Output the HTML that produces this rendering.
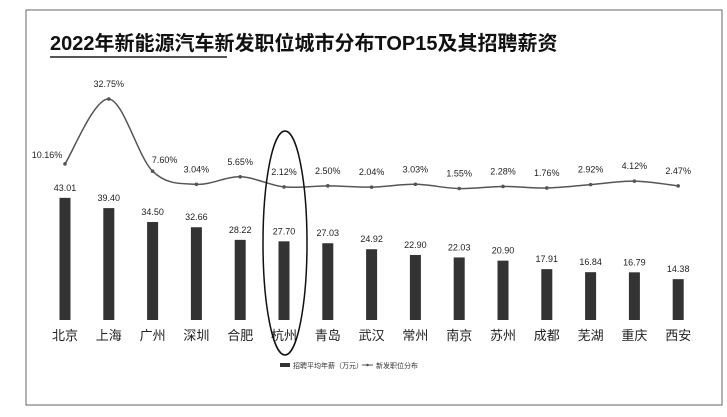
<!DOCTYPE html>
<html><head><meta charset="utf-8"><style>
body{margin:0;background:#fff;}
svg text{font-family:"Liberation Sans","Noto Sans CJK SC",sans-serif;}
</style></head><body>
<svg width="727" height="412" viewBox="0 0 727 412">
<rect x="26" y="10" width="696" height="395" fill="#fff" stroke="#666" stroke-width="1"/>
<text x="50" y="50" font-size="20" font-weight="bold" fill="#111">2022年新能源汽车新发职位城市分布TOP15及其招聘薪资</text>
<line x1="50" y1="57" x2="227" y2="57" stroke="#555" stroke-width="2"/>
<g id="bars"></g><g id="line"></g><g id="labels"></g>
<ellipse cx="285" cy="243" rx="22" ry="112" fill="none" stroke="#111" stroke-width="1.5"/>
<g>
<rect x="280" y="363" width="10" height="4" fill="#333"/>
<text x="293" y="368" font-size="7" fill="#333">招聘平均年薪（万元）</text>
<line x1="362" y1="365" x2="373" y2="365" stroke="#555" stroke-width="1"/>
<circle cx="367.5" cy="365" r="1.3" fill="#555"/>
<text x="376" y="368" font-size="7" fill="#333">新发职位分布</text>
</g>
</svg>
<script>
const cities=["北京","上海","广州","深圳","合肥","杭州","青岛","武汉","常州","南京","苏州","成都","芜湖","重庆","西安"];
const salary=[43.01,39.40,34.50,32.66,28.22,27.70,27.03,24.92,22.90,22.03,20.90,17.91,16.84,16.79,14.38];
const share=[10.16,32.75,7.60,3.04,5.65,2.12,2.50,2.04,3.03,1.55,2.28,1.76,2.92,4.12,2.47];
const NS="http://www.w3.org/2000/svg";
const x=i=>65+i*43.8;
const yBar=v=>320-v*2.84;
const yLine=v=>193-v*2.87;
function mk(t,a,p){const e=document.createElementNS(NS,t);for(const k in a)e.setAttribute(k,a[k]);p.appendChild(e);return e;}
const gb=document.getElementById('bars'),gl=document.getElementById('line'),gt=document.getElementById('labels');
salary.forEach((v,i)=>{
 const r=mk('rect',{x:x(i)-5.5,y:yBar(v),width:11,height:320-yBar(v),fill:'#333'},gb);
 
 
 const t=mk('text',{x:x(i),y:yBar(v)-7,'font-size':9,'text-anchor':'middle',fill:'#222'},gt);
 t.textContent=v.toFixed(2);
 
 
 const c=mk('text',{x:x(i),y:340,'font-size':13,'text-anchor':'middle',fill:'#222'},gt);
 c.textContent=cities[i];
 
 
});
const pts=share.map((v,i)=>[x(i),yLine(v)]);
let d='M'+pts[0][0]+','+pts[0][1];
for(let i=0;i<pts.length-1;i++){
 const p0=pts[Math.max(0,i-1)],p1=pts[i],p2=pts[i+1],p3=pts[Math.min(pts.length-1,i+2)];
 const c1=[p1[0]+(p2[0]-p0[0])/6,p1[1]+(p2[1]-p0[1])/6],c2=[p2[0]-(p3[0]-p1[0])/6,p2[1]-(p3[1]-p1[1])/6];
 d+=' C'+c1+' '+c2+' '+p2;
}
const path=mk('path',{d:d,fill:'none',stroke:'#555','stroke-width':1.5},gl);


share.forEach((v,i)=>{
 const c=mk('circle',{cx:pts[i][0],cy:pts[i][1],r:1.8,fill:'#555'},gl);
 
 
 let lx=pts[i][0],ly=pts[i][1]-12;
 if(i===0){lx-=18;ly=pts[i][1]-6;}
 if(i===2){lx+=12;ly=pts[i][1]-8;}
 const t=mk('text',{x:lx,y:ly,'font-size':9,'text-anchor':'middle',fill:'#222'},gt);
 t.textContent=v.toFixed(2)+'%';
 
 
});
</script>
</body></html>
